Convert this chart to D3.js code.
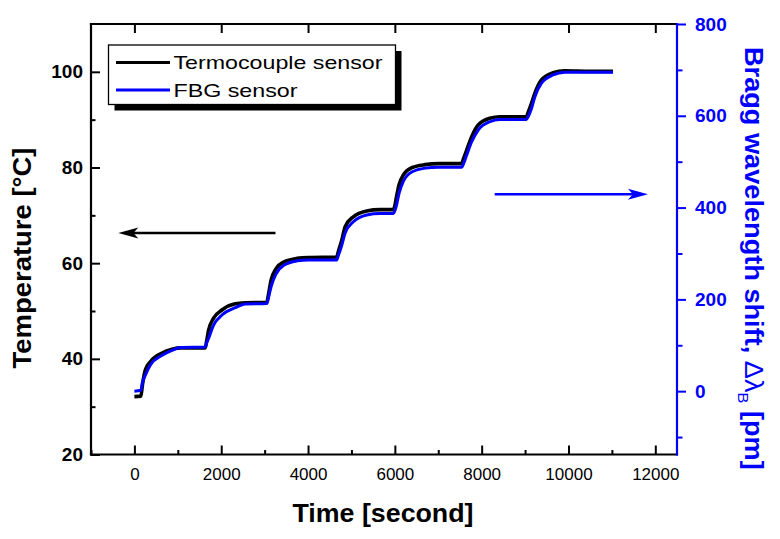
<!DOCTYPE html>
<html>
<head>
<meta charset="utf-8">
<script src="https://cdn.jsdelivr.net/npm/d3@7"></script>
<style>
  html, body { margin: 0; padding: 0; background: #fff; }
  svg { display: block; font-family: "Liberation Sans", Arial, sans-serif; }
</style>
</head>
<body>
<svg id="chart" width="780" height="539"></svg>
<script>
// ---------- data ----------
const timeSec = [0,150,184,253,368,637,867,1058,1633,1660,1709,1824,2017,2323,2553,3052,3080,3150,3260,3450,3750,4000,4660,4700,4777,4853,5044,5352,5658,5965,6000,6030,6100,6200,6400,6700,7000,7540,7580,7653,7768,7920,8189,8419,9030,9070,9148,9224,9378,9645,9914,10500,11025];
const thermoTemp = [32.1,32.2,34.5,37.7,39.4,41.2,42.0,42.3,42.3,43.5,46.0,48.5,50.2,51.5,51.7,51.8,53.0,56.5,58.8,60.3,61.0,61.2,61.3,62.5,64.8,67.6,69.7,70.9,71.2,71.2,72.0,73.5,76.5,78.5,80.0,80.6,80.8,80.8,81.8,83.6,86.4,88.9,90.3,90.6,90.6,91.5,93.4,95.5,98.3,99.8,100.2,100.1,100.1];
const fbgShift = [0,2,18,35,57,78,89,95,96,104,115,144,166,182,190,191,200,228,255,275,284,286,286,296,318,344,369,384,387,387,393,402,432,458,478,486,488,488,495,514,543,569,587,592,592,598,616,641,671,689,695,695,695];

const xTicks = [0,2000,4000,6000,8000,10000,12000];
const xMinorTicks = [-1000,1000,3000,5000,7000,9000,11000];
const yLeftTicks = [20,40,60,80,100];
const yLeftMinor = [30,50,70,90];
const yRightTicks = [0,200,400,600,800];
const yRightMinor = [-100,100,300,500,700];

const seriesNames = ["Termocouple sensor","FBG sensor"];
// annotation arrows: [x0, x1(tip), y] in data units
const arrowLeft = [3250, -370, 66.3];     // on temperature axis
const arrowRight = [8300, 11830, 74.4];   // drawn at temperature-axis height

// ---------- layout ----------
const svg = d3.select("#chart");
const L = 91, R = 677, T = 24, B = 454.5;
const font = '"Liberation Sans", Arial, sans-serif';
const BLUE = "#0000ff";

const x = d3.scaleLinear().domain([-1000,12500]).range([L,R]);
const yL = d3.scaleLinear().domain([20,110]).range([B,T]);
const yR = d3.scaleLinear().domain([-138,800]).range([B,T]);

// ---------- lines ----------
const lineT = d3.line().x((d,i)=>x(timeSec[i])).y(d=>yL(d)).curve(d3.curveMonotoneX);
const lineF = d3.line().x((d,i)=>x(timeSec[i])).y(d=>yR(d)).curve(d3.curveMonotoneX);

svg.append("path").attr("d", lineT(thermoTemp)).attr("fill","none")
   .attr("stroke","#000").attr("stroke-width",3.6).attr("stroke-linejoin","round");
svg.append("path").attr("d", lineF(fbgShift)).attr("fill","none")
   .attr("stroke",BLUE).attr("stroke-width",3).attr("stroke-linejoin","round");

// ---------- axes ----------
function styleAxis(g, color) {
  g.select(".domain").remove();
  g.selectAll("line").attr("stroke", color).attr("stroke-width", 2);
  g.selectAll("text").attr("fill", color).attr("font-family", font);
}
// bottom
svg.append("g").attr("transform",`translate(0,${B})`)
  .call(d3.axisBottom(x).tickValues(xTicks).tickSize(-9).tickSizeOuter(0).tickPadding(13).tickFormat(d3.format("d")))
  .call(g=>{styleAxis(g,"#000"); g.selectAll("text").attr("font-size",17);});
svg.append("g").attr("transform",`translate(0,${B})`)
  .call(d3.axisBottom(x).tickValues(xMinorTicks).tickSize(-4.5).tickSizeOuter(0).tickFormat(""))
  .call(g=>styleAxis(g,"#000"));
// top (major only)
svg.append("g").attr("transform",`translate(0,${T})`)
  .call(d3.axisTop(x).tickValues(xTicks).tickSize(-9).tickSizeOuter(0).tickFormat(""))
  .call(g=>styleAxis(g,"#000"));
// left
svg.append("g").attr("transform",`translate(${L},0)`)
  .call(d3.axisLeft(yL).tickValues(yLeftTicks).tickSize(-9).tickSizeOuter(0).tickPadding(8))
  .call(g=>{styleAxis(g,"#000"); g.selectAll("text").attr("font-size",19).attr("font-weight","bold");});
svg.append("g").attr("transform",`translate(${L},0)`)
  .call(d3.axisLeft(yL).tickValues(yLeftMinor).tickSize(-4.5).tickSizeOuter(0).tickFormat(""))
  .call(g=>styleAxis(g,"#000"));
// right
svg.append("g").attr("transform",`translate(${R},0)`)
  .call(d3.axisRight(yR).tickValues(yRightTicks).tickSize(9).tickSizeOuter(0).tickPadding(9))
  .call(g=>{styleAxis(g,BLUE); g.selectAll("text").attr("font-size",19).attr("font-weight","bold");});
svg.append("g").attr("transform",`translate(${R},0)`)
  .call(d3.axisRight(yR).tickValues(yRightMinor).tickSize(5.5).tickSizeOuter(0).tickFormat(""))
  .call(g=>styleAxis(g,BLUE));

// frame
const frame = svg.append("g").attr("stroke-width",2.2).attr("stroke-linecap","square");
frame.append("line").attr("x1",L).attr("x2",R).attr("y1",B).attr("y2",B).attr("stroke","#000");
frame.append("line").attr("x1",L).attr("x2",R).attr("y1",T).attr("y2",T).attr("stroke","#000");
frame.append("line").attr("x1",L).attr("x2",L).attr("y1",T).attr("y2",B).attr("stroke","#000");
frame.append("line").attr("x1",R).attr("x2",R).attr("y1",T).attr("y2",B).attr("stroke",BLUE);

// ---------- arrows ----------
function arrow(x0, x1, yy, color, width) {
  const dir = Math.sign(x1 - x0);
  const headLen = 20, headHalf = 5.5;
  svg.append("line").attr("x1",x0).attr("x2",x1 - dir*headLen*0.6).attr("y1",yy).attr("y2",yy)
     .attr("stroke",color).attr("stroke-width",width);
  svg.append("path")
     .attr("d",`M${x1},${yy} L${x1-dir*headLen},${yy-headHalf} L${x1-dir*headLen*0.75},${yy} L${x1-dir*headLen},${yy+headHalf} Z`)
     .attr("fill",color);
}
arrow(x(arrowLeft[0]), x(arrowLeft[1]), yL(arrowLeft[2]), "#000", 2.4);
arrow(x(arrowRight[0]), x(arrowRight[1]), yL(arrowRight[2]), BLUE, 2.6);

// ---------- legend ----------
const lg = svg.append("g");
lg.append("rect").attr("x",114.5).attr("y",51).attr("width",287).attr("height",59.5).attr("fill","#000");
lg.append("rect").attr("x",108.5).attr("y",45).attr("width",287).attr("height",59.5)
  .attr("fill","#fff").attr("stroke","#000").attr("stroke-width",1.3);
const legColors = ["#000", BLUE];
const legY = [62.5, 90];
const legLen = [209, 124];
seriesNames.forEach((name,i)=>{
  lg.append("line").attr("x1",116).attr("x2",170).attr("y1",legY[i]).attr("y2",legY[i])
    .attr("stroke",legColors[i]).attr("stroke-width",3);
  lg.append("text").attr("x",173.5).attr("y",legY[i]+6.5).text(name)
    .attr("font-size",19).attr("fill","#000").attr("font-family",font)
    .attr("textLength",legLen[i]).attr("lengthAdjust","spacingAndGlyphs");
});

// ---------- titles ----------
svg.append("text").attr("x",383).attr("y",522).attr("text-anchor","middle")
  .attr("font-size",25).attr("font-weight","bold").attr("font-family",font).attr("fill","#000")
  .attr("textLength",181).attr("lengthAdjust","spacingAndGlyphs")
  .text("Time [second]");

svg.append("text").attr("transform","translate(31,258) rotate(-90)").attr("text-anchor","middle")
  .attr("font-size",25).attr("font-weight","bold").attr("font-family",font).attr("fill","#000")
  .attr("textLength",221).attr("lengthAdjust","spacingAndGlyphs")
  .text("Temperature [°C]");

const rt = svg.append("g").attr("transform","translate(745,258.5) rotate(90)");
const rtext = rt.append("text").attr("font-size",25).attr("font-weight","bold")
  .attr("font-family",font).attr("fill",BLUE);
rtext.append("tspan").text("Bragg wavelength shift, ");
rtext.append("tspan").attr("font-weight","normal").text("Δλ");
rtext.append("tspan").attr("font-weight","normal").attr("font-size",15).attr("dy",7).text("B");
rtext.append("tspan").attr("dy",-7).text(" [pm]");
const w = rtext.node().getComputedTextLength();
const targetLen = 423;
rtext.attr("transform",`scale(${targetLen/w},1) translate(${-w/2},0)`);
</script>
</body>
</html>
